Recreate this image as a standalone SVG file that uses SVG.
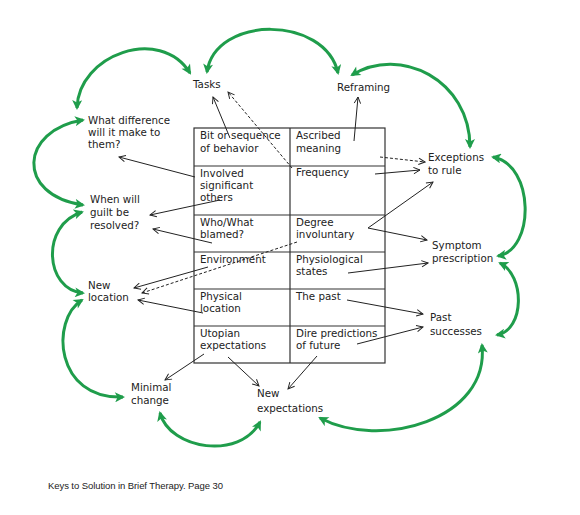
<svg xmlns="http://www.w3.org/2000/svg" width="580" height="515" viewBox="0 0 580 515">
<style>
text{font-family:"DejaVu Sans",Verdana,sans-serif;font-size:10.3px;fill:#222}
.cap{font-family:"Liberation Sans",Arial,sans-serif;font-size:9.5px}
.cell{fill:none;stroke:#333;stroke-width:1.2}
.a{fill:none;stroke:#222;stroke-width:1;marker-end:url(#va)}
.d{stroke-dasharray:3,2}
.g{fill:none;stroke:#1f9d4b;stroke-width:3;marker-start:url(#ga);marker-end:url(#ga)}
</style>
<defs>
<marker id="va" viewBox="0 0 10 10" refX="9" refY="5" markerWidth="8" markerHeight="8" markerUnits="userSpaceOnUse" orient="auto">
<path d="M1,1 L9,5 L1,9" fill="none" stroke="#222" stroke-width="1.2"/>
</marker>
<marker id="ga" viewBox="0 0 10 10" refX="8" refY="5" markerWidth="11" markerHeight="10" markerUnits="userSpaceOnUse" orient="auto-start-reverse">
<path d="M0,0 L10,5 L0,10 L2.5,5 z" fill="#1f9d4b"/>
</marker>
</defs>
<rect width="580" height="515" fill="#fff"/>
<g id="table">
<rect class="cell" x="194" y="128" width="191" height="235"/>
<path class="cell" d="M290,128 V363 M194,166 H385 M194,215 H385 M194,252 H385 M194,289 H385 M194,326 H385"/>
<text x="200" y="139">Bit or sequence</text><text x="200" y="152">of behavior</text>
<text x="296" y="139">Ascribed</text><text x="296" y="152">meaning</text>
<text x="200" y="177">Involved</text><text x="200" y="189">significant</text><text x="200" y="201">others</text>
<text x="296" y="176">Frequency</text>
<text x="200" y="226">Who/What</text><text x="200" y="238">blamed?</text>
<text x="296" y="226">Degree</text><text x="296" y="238">involuntary</text>
<text x="200" y="263">Environment</text>
<text x="296" y="263">Physiological</text><text x="296" y="275">states</text>
<text x="200" y="300">Physical</text><text x="200" y="312">location</text>
<text x="296" y="300">The past</text>
<text x="200" y="337">Utopian</text><text x="200" y="349">expectations</text>
<text x="296" y="337">Dire predictions</text><text x="296" y="349">of future</text>
</g>
<g id="tasks"><text x="193" y="88">Tasks</text></g>
<g id="reframing"><text x="337" y="91">Reframing</text></g>
<g id="what-difference"><text x="88" y="124">What difference</text><text x="88" y="136">will it make to</text><text x="88" y="148">them?</text></g>
<g id="guilt"><text x="90" y="203">When will</text><text x="90" y="216">guilt be</text><text x="90" y="229">resolved?</text></g>
<g id="new-location"><text x="88" y="289">New</text><text x="88" y="301">location</text></g>
<g id="minimal-change"><text x="131" y="391">Minimal</text><text x="131" y="404">change</text></g>
<g id="new-expectations"><text x="257" y="397">New</text><text x="257" y="412">expectations</text></g>
<g id="exceptions"><text x="428" y="161">Exceptions</text><text x="428" y="174">to rule</text></g>
<g id="symptom"><text x="432" y="249">Symptom</text><text x="432" y="262">prescription</text></g>
<g id="past-successes"><text x="430" y="321">Past</text><text x="430" y="335">successes</text></g>
<g id="caption"><text class="cap" x="48" y="489" textLength="175">Keys to Solution in Brief Therapy. Page 30</text></g>
<g id="connectors">
<path class="a" d="M230,138 L213,97"/>
<path class="a d" d="M292,168 L228,92"/>
<path class="a" d="M354,141 L358,97"/>
<path class="a d" d="M380,157 L425,162"/>
<path class="a" d="M375,174 L420,170"/>
<path class="a" d="M368,228 L433,182"/>
<path class="a" d="M368,228 L427,240"/>
<path class="a" d="M348,273 L428,263"/>
<path class="a" d="M347,300 L423,314"/>
<path class="a" d="M357,344 L423,327"/>
<path class="a" d="M317,356 L288,389"/>
<path class="a" d="M228,357 L259,386"/>
<path class="a" d="M204,354 L165,380"/>
<path class="a" d="M203,313 L138,300"/>
<path class="a" d="M208,267 L134,288"/>
<path class="a d" d="M297,242 L142,293"/>
<path class="a" d="M212,243 L153,229"/>
<path class="a" d="M220,200 L150,215"/>
<path class="a" d="M195,177 L119,157"/>
<path class="g" d="M77,108 C78,55 160,25 190,73"/>
<path class="g" d="M207,72 C215,15 325,15 338,73"/>
<path class="g" d="M352,75 C400,45 470,80 470,147"/>
<path class="g" d="M493,157 C535,165 535,250 498,256"/>
<path class="g" d="M500,263 C525,275 525,330 497,335"/>
<path class="g" d="M482,345 C490,420 380,450 320,418"/>
<path class="g" d="M160,413 C170,450 240,460 260,422"/>
<path class="g" d="M82,300 C50,320 55,400 123,397"/>
<path class="g" d="M82,212 C40,225 45,290 83,293"/>
<path class="g" d="M83,120 C20,130 15,195 83,205"/>
</g>
</svg>
